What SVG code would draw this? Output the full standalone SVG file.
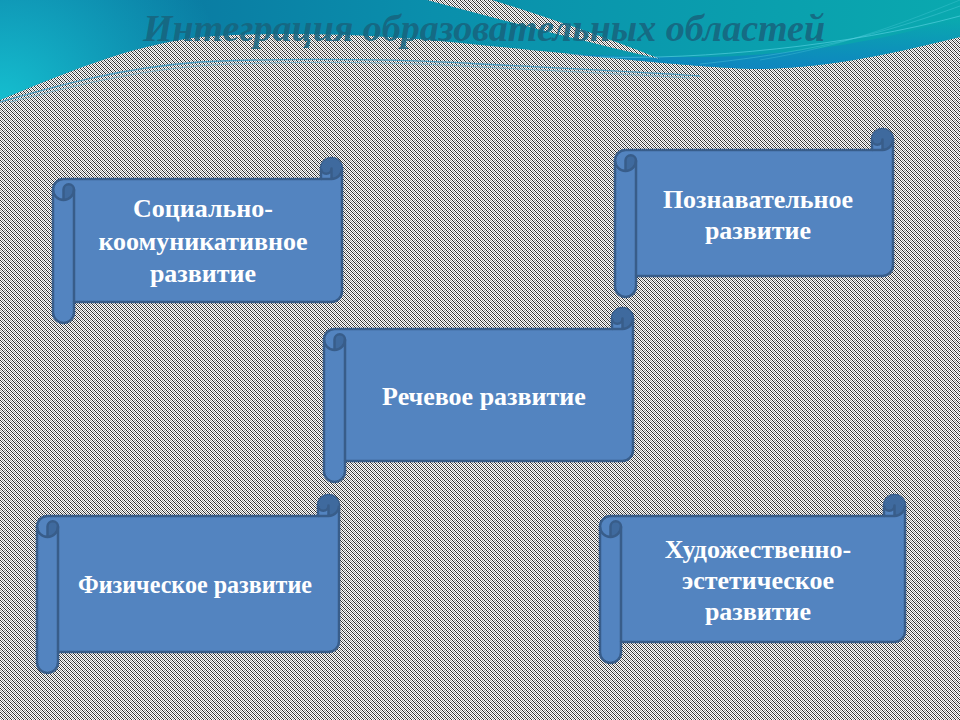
<svg xmlns="http://www.w3.org/2000/svg" xmlns:xlink="http://www.w3.org/1999/xlink" width="960" height="720" viewBox="0 0 960 720">
  <defs>
    <pattern id="hatch" width="4" height="4" patternUnits="userSpaceOnUse">
      <rect width="4" height="4" fill="#ffffff"/>
      <path d="M0,0h1v1h-1zM1,1h1v1h-1zM2,2h1v1h-1zM3,3h1v1h-1z" fill="#2a2a2a"/>
      <path d="M2,0h1v1h-1zM3,1h1v1h-1zM0,2h1v1h-1zM1,3h1v1h-1z" fill="#9a9a9a"/>
    </pattern>
    <linearGradient id="teal" gradientUnits="userSpaceOnUse" x1="0" y1="0" x2="960" y2="60">
      <stop offset="0" stop-color="#0A6E9C"/>
      <stop offset="0.45" stop-color="#0A8FAC"/>
      <stop offset="1" stop-color="#0AA9AF"/>
    </linearGradient>
    <radialGradient id="cyan" gradientUnits="userSpaceOnUse" cx="0" cy="110" r="230">
      <stop offset="0" stop-color="#16C6D4" stop-opacity="0.95"/>
      <stop offset="1" stop-color="#16C6D4" stop-opacity="0"/>
    </radialGradient>
    <linearGradient id="blueband" gradientUnits="userSpaceOnUse" x1="0" y1="70" x2="0" y2="20">
      <stop offset="0" stop-color="#0E84C2" stop-opacity="0.95"/>
      <stop offset="1" stop-color="#0E84C2" stop-opacity="0"/>
    </linearGradient>
    <style>
      .body { fill: #5384C0; stroke: #385D8A; stroke-width: 2.5; stroke-linejoin: round; }
      .dark { fill: #3F6A9E; stroke: none; }
      .ln { fill: none; stroke: #385D8A; stroke-width: 2.5; stroke-linejoin: round; }
      .lbl { font-family: "Liberation Serif", "Times New Roman", serif; font-weight: bold; font-size: 26px; fill: #ffffff; text-anchor: middle; }
      .title { font-family: "Liberation Serif", "Times New Roman", serif; font-weight: bold; font-style: italic; font-size: 38px; fill: #17657F; fill-opacity: 0.9; text-anchor: middle; }
    </style>
    <g id="rollL">
      <path class="dark" d="M10.5,42 A10.5,10.5 0 0 0 21,31.5 A5.25,5.25 0 0 0 10.5,31.5 Z"/>
      <path class="ln" d="M10.5,42 L10.5,31.5 A5.25,5.25 0 0 1 21,31.5 A10.5,10.5 0 0 1 0,31.5"/>
    </g>
    <g id="curlR">
      <path class="dark" d="M-10.5,21 A10.5,10.5 0 1 0 -21,10.5 A5.25,5.25 0 0 0 -10.5,10.5 Z"/>
      <path class="ln" d="M-21,21 L-10.5,21 A10.5,10.5 0 0 0 0,10.5 M-10.5,21 L-10.5,10.5 A5.25,5.25 0 0 1 -21,10.5"/>
    </g>
  </defs>

  <!-- background -->
  <rect width="960" height="720" fill="url(#hatch)"/>

  <!-- thin lines in hatched area -->
  <path d="M0,102 C60,85 120,68 200,62 C300,57 420,60 480,64 C560,68 640,72 700,76" fill="none" stroke="#4A9CC0" stroke-width="1.3"/>
  <path d="M10,102 C70,87 130,71 210,65 C310,60 420,63 480,67 C560,71 640,75 690,78" fill="none" stroke="#6FB4D0" stroke-width="1" opacity="0.8"/>

  <!-- top wave -->
  <path id="wave" d="M0,0 H960 V37 C900,52 830,68 760,69 C700,68 620,58 480,45 C400,36 300,30 200,37 C130,45 60,75 0,100 Z" fill="url(#teal)"/>
  <path d="M0,0 H960 V37 C900,52 830,68 760,69 C700,68 620,58 480,45 C400,36 300,30 200,37 C130,45 60,75 0,100 Z" fill="url(#cyan)"/>
  <path d="M560,54 C620,58 700,68 760,69 C830,68 900,52 960,37 L960,16 C900,38 800,56 700,57 C640,57 600,55 560,54 Z" fill="url(#blueband)"/>
  <path d="M600,57 C700,60 850,46 960,16" fill="none" stroke="#5ED6E6" stroke-width="1" opacity="0.6"/>
  <path d="M700,64 C820,52 900,28 960,6" fill="none" stroke="#5ED6E6" stroke-width="0.8" opacity="0.45"/>
  <path d="M760,60 C850,45 910,20 960,0" fill="none" stroke="#5ED6E6" stroke-width="0.8" opacity="0.35"/>
  <path d="M427,0 L492,0 C540,15 600,35 660,59 C600,45 520,25 427,0 Z" fill="url(#hatch)"/>

  <text class="title" x="484" y="41">Интеграция образовательных областей</text>

  <!-- nodes -->
  <g id="social">
    <g transform="translate(53,158)">
      <path class="body" d="M0,31.5 A10.5,10.5 0 0 1 10.5,21 H268 V10.5 A10.5,10.5 0 0 1 289,10.5 V133.5 A10.5,10.5 0 0 1 278.5,144 H21 V154.5 A10.5,10.5 0 0 1 0,154.5 Z"/>
      <use href="#rollL"/>
      <path class="ln" d="M21,31.5 V144"/>
      <use href="#curlR" x="289"/>
    </g>
    <text class="lbl" x="203" y="217">Социально-</text>
    <text class="lbl" x="203" y="250">коомуникативное</text>
    <text class="lbl" x="203" y="282">развитие</text>
  </g>

  <g id="cognitive">
    <g transform="translate(615,129)">
      <path class="body" d="M0,31.5 A10.5,10.5 0 0 1 10.5,21 H257 V10.5 A10.5,10.5 0 0 1 278,10.5 V136.5 A10.5,10.5 0 0 1 267.5,147 H21 V157.5 A10.5,10.5 0 0 1 0,157.5 Z"/>
      <use href="#rollL"/>
      <path class="ln" d="M21,31.5 V147"/>
      <use href="#curlR" x="278"/>
    </g>
    <text class="lbl" x="758" y="208">Познавательное</text>
    <text class="lbl" x="758" y="239">развитие</text>
  </g>

  <g id="speech">
    <g transform="translate(324,308)">
      <path class="body" d="M0,31.5 A10.5,10.5 0 0 1 10.5,21 H288 V10.5 A10.5,10.5 0 0 1 309,10.5 V142.5 A10.5,10.5 0 0 1 298.5,153 H21 V163.5 A10.5,10.5 0 0 1 0,163.5 Z"/>
      <use href="#rollL"/>
      <path class="ln" d="M21,31.5 V153"/>
      <use href="#curlR" x="309"/>
    </g>
    <text class="lbl" x="484" y="405">Речевое развитие</text>
  </g>

  <g id="physical">
    <g transform="translate(37,495)">
      <path class="body" d="M0,31.5 A10.5,10.5 0 0 1 10.5,21 H281 V10.5 A10.5,10.5 0 0 1 302,10.5 V146.5 A10.5,10.5 0 0 1 291.5,157 H21 V167.5 A10.5,10.5 0 0 1 0,167.5 Z"/>
      <use href="#rollL"/>
      <path class="ln" d="M21,31.5 V157"/>
      <use href="#curlR" x="302"/>
    </g>
    <text class="lbl" x="195" y="593" textLength="234" lengthAdjust="spacingAndGlyphs">Физическое развитие</text>
  </g>

  <g id="artistic">
    <g transform="translate(600,495)">
      <path class="body" d="M0,31.5 A10.5,10.5 0 0 1 10.5,21 H284 V10.5 A10.5,10.5 0 0 1 305,10.5 V136.5 A10.5,10.5 0 0 1 294.5,147 H21 V157.5 A10.5,10.5 0 0 1 0,157.5 Z"/>
      <use href="#rollL"/>
      <path class="ln" d="M21,31.5 V147"/>
      <use href="#curlR" x="305"/>
    </g>
    <text class="lbl" x="758" y="558">Художественно-</text>
    <text class="lbl" x="758" y="589">эстетическое</text>
    <text class="lbl" x="758" y="620">развитие</text>
  </g>
</svg>
